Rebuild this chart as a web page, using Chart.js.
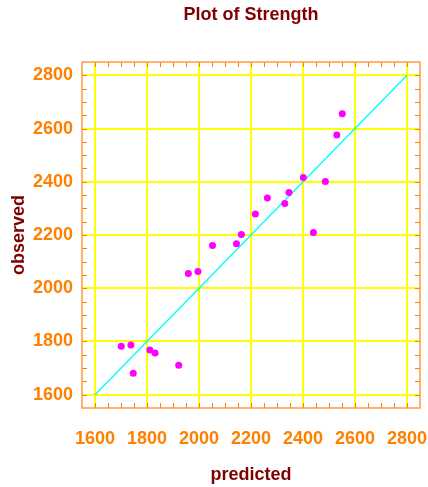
<!DOCTYPE html>
<html>
<head>
<meta charset="utf-8">
<script src="https://cdn.jsdelivr.net/npm/chart.js@4/dist/chart.umd.min.js"></script>
<style>
  html, body { margin: 0; padding: 0; background: #ffffff; }
  canvas { display: block; }
</style>
</head>
<body>
<canvas id="chart" width="428" height="487"></canvas>
<script>
// Predicted vs observed strength
const predicted = [1701, 1738, 1747, 1811, 1831, 1922, 1959, 1996, 2052, 2144,
                   2163, 2217, 2263, 2330, 2346, 2401, 2440, 2486, 2530, 2551];
const observed  = [1782, 1787, 1681, 1768, 1757, 1711, 2055, 2063, 2161, 2167,
                   2202, 2279, 2339, 2318, 2360, 2416, 2209, 2401, 2576, 2656];
// Identity line (observed = predicted)
const identityLine = [1600, 2800];
const tickValues = [1600, 1800, 2000, 2200, 2400, 2600, 2800];
const axisMin = 1550;
const axisMax = 2850;
const minorStep = 50;

const ORANGE = '#ff8000';
const FRAME = '#ff9a3c';
const DARKRED = '#7f0000';
const GRID = '#ffff00';
const FONT = '"Liberation Sans", Arial, Helvetica, sans-serif';

const crisp = (p) => Math.round(p) + 0.5;

// Yellow grid at the labelled values, drawn beneath the data
const gridPlugin = {
  id: 'yellowGrid',
  beforeDatasetsDraw(chart) {
    const { ctx, chartArea, scales } = chart;
    const { left, right, top, bottom } = chartArea;
    ctx.save();
    ctx.strokeStyle = GRID;
    ctx.lineWidth = 2;
    ctx.beginPath();
    tickValues.forEach(v => {
      const x = Math.round(scales.x.getPixelForValue(v));
      ctx.moveTo(x, top); ctx.lineTo(x, bottom);
      const y = Math.round(scales.y.getPixelForValue(v));
      ctx.moveTo(left, y); ctx.lineTo(right, y);
    });
    ctx.stroke();
    ctx.restore();
  }
};

// Title centred over the plotting area
const titlePlugin = {
  id: 'plotTitle',
  afterDraw(chart) {
    const { ctx, chartArea } = chart;
    ctx.save();
    ctx.fillStyle = DARKRED;
    ctx.font = 'bold 18px ' + FONT;
    ctx.textAlign = 'center';
    ctx.textBaseline = 'middle';
    ctx.fillText('Plot of Strength', (chartArea.left + chartArea.right) / 2, 15);
    ctx.restore();
  }
};

// Box frame with inward tick marks on all four sides
const framePlugin = {
  id: 'frameTicks',
  afterDatasetsDraw(chart) {
    const { ctx, chartArea, scales } = chart;
    const { left, right, top, bottom } = chartArea;
    const len = 5;
    ctx.save();
    ctx.strokeStyle = ORANGE;
    ctx.lineWidth = 1;
    ctx.beginPath();
    for (let v = tickValues[0]; v <= tickValues[tickValues.length - 1]; v += minorStep) {
      const x = crisp(scales.x.getPixelForValue(v));
      ctx.moveTo(x, bottom); ctx.lineTo(x, bottom - len);
      ctx.moveTo(x, top); ctx.lineTo(x, top + len);
      const y = crisp(scales.y.getPixelForValue(v));
      ctx.moveTo(left, y); ctx.lineTo(left + len, y);
      ctx.moveTo(right, y); ctx.lineTo(right - len, y);
    }
    ctx.stroke();
    ctx.strokeStyle = FRAME;
    ctx.lineWidth = 1.5;
    ctx.strokeRect(left, top, right - left, bottom - top);
    ctx.restore();
  }
};

const fixedTicks = (scale) => {
  scale.ticks = tickValues.map(v => ({ value: v }));
};
const plainLabel = (value) => String(value);
const noEdgePadding = (scale) => {
  scale.paddingLeft = 0;
  scale.paddingRight = 0;
  scale.paddingTop = 0;
  scale.paddingBottom = 0;
};

new Chart(document.getElementById('chart'), {
  type: 'scatter',
  data: {
    datasets: [
      {
        label: 'observed',
        data: predicted.map((p, i) => ({ x: p, y: observed[i] })),
        backgroundColor: '#ff00ff',
        borderColor: '#ff00ff',
        borderWidth: 0,
        pointRadius: 3.5,
        order: 1
      },
      {
        label: 'identity',
        type: 'line',
        data: identityLine.map(v => ({ x: v, y: v })),
        borderColor: '#00ffff',
        borderWidth: 1.4,
        pointRadius: 0,
        fill: false,
        order: 2
      }
    ]
  },
  options: {
    responsive: false,
    animation: false,
    devicePixelRatio: 1,
    layout: { padding: { top: 62, right: 8, left: 0, bottom: 0 } },
    plugins: {
      legend: { display: false },
      tooltip: { enabled: false },
      title: { display: false }
    },
    scales: {
      x: {
        type: 'linear',
        position: 'bottom',
        min: axisMin,
        max: axisMax,
        afterBuildTicks: fixedTicks,
        afterFit(scale) { scale.height = 79; noEdgePadding(scale); },
        grid: { display: false, drawTicks: false },
        border: { display: false },
        ticks: {
          color: ORANGE,
          padding: 20,
          maxRotation: 0,
          minRotation: 0,
          autoSkip: false,
          callback: plainLabel,
          font: { family: FONT, size: 18, weight: 'bold' }
        },
        title: {
          display: true,
          text: 'predicted',
          color: DARKRED,
          padding: { top: 0, bottom: 1 },
          font: { family: FONT, size: 18, weight: 'bold' }
        }
      },
      y: {
        type: 'linear',
        position: 'left',
        min: axisMin,
        max: axisMax,
        afterBuildTicks: fixedTicks,
        afterFit(scale) { scale.width = 82; noEdgePadding(scale); },
        grid: { display: false, drawTicks: false },
        border: { display: false },
        ticks: {
          color: ORANGE,
          padding: 9,
          autoSkip: false,
          callback: plainLabel,
          font: { family: FONT, size: 18, weight: 'bold' }
        },
        title: {
          display: true,
          text: 'observed',
          color: DARKRED,
          padding: { top: 8, bottom: 0 },
          font: { family: FONT, size: 18, weight: 'bold' }
        }
      }
    }
  },
  plugins: [gridPlugin, titlePlugin, framePlugin]
});
</script>
</body>
</html>
